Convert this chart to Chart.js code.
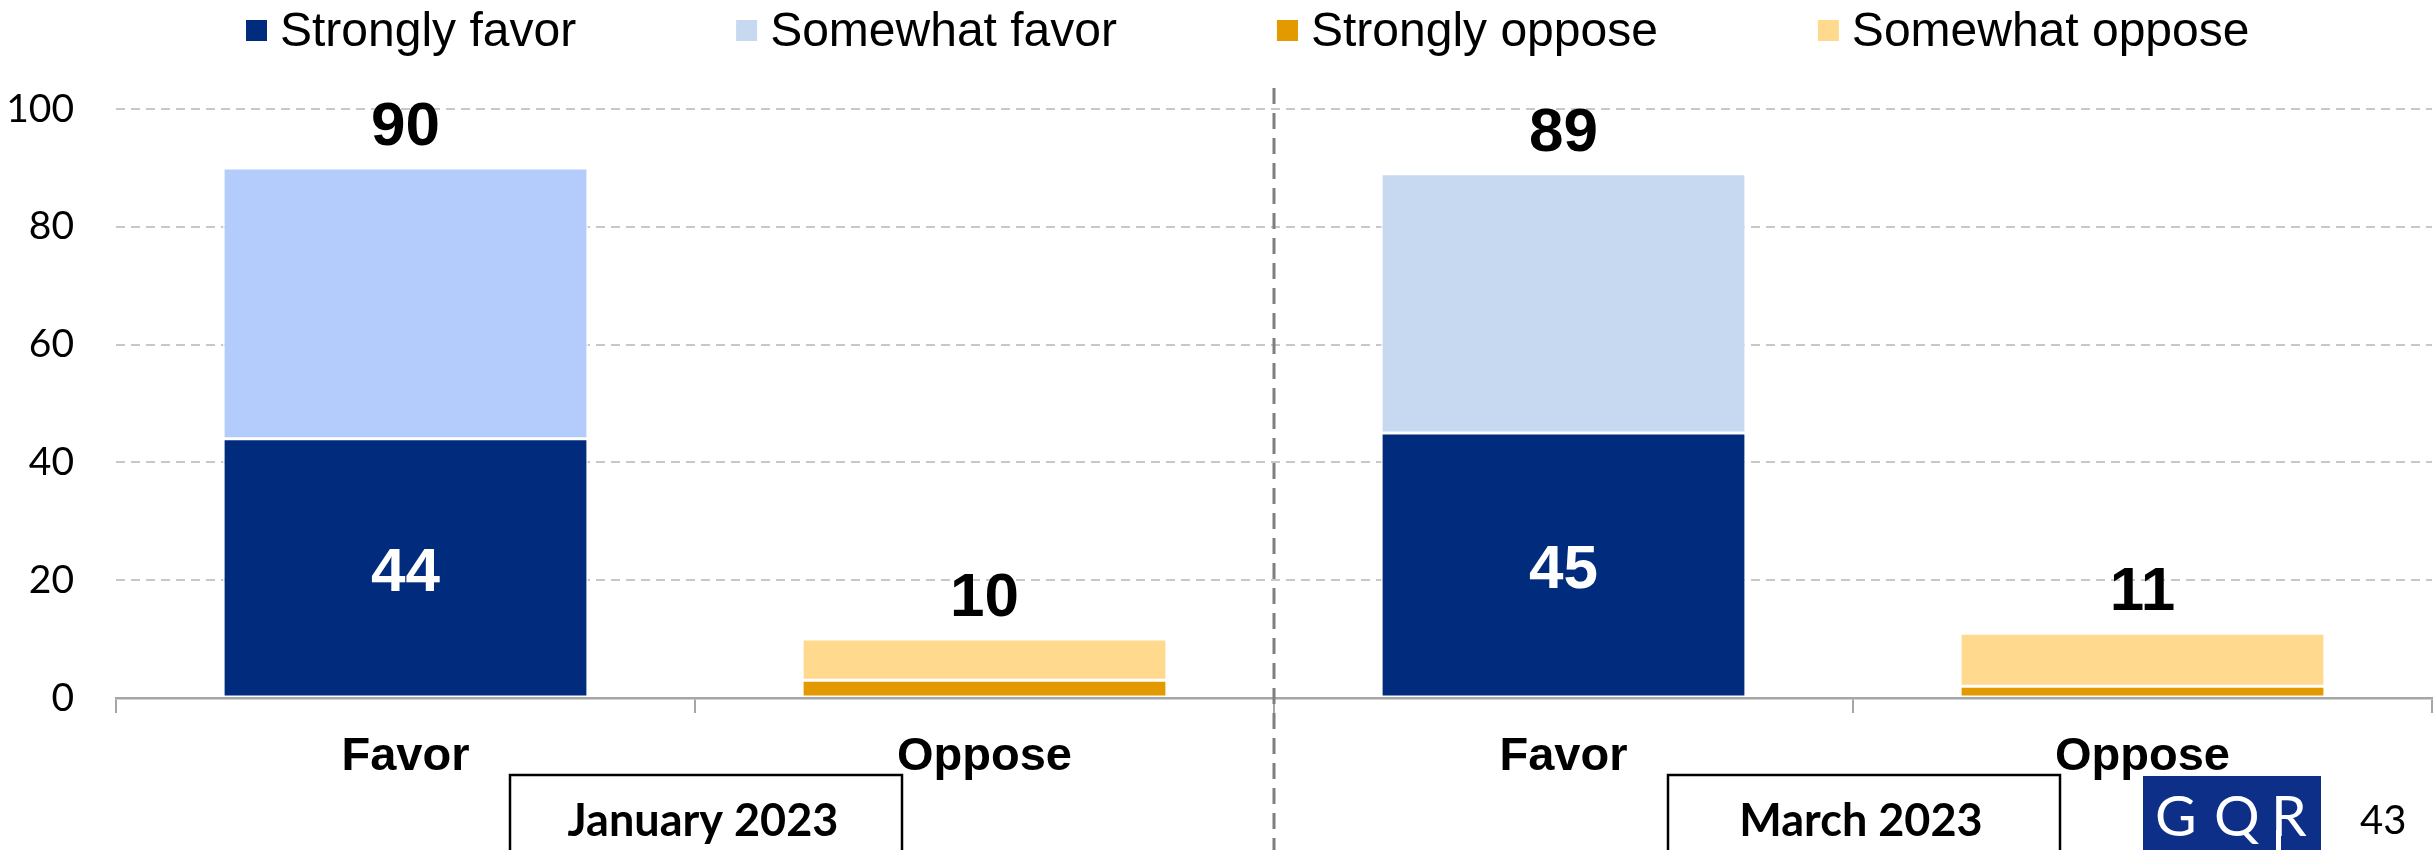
<!DOCTYPE html>
<html>
<head>
<meta charset="utf-8">
<script src="https://cdn.jsdelivr.net/npm/chart.js@4/dist/chart.umd.min.js"></script>
<style>
    html, body { margin: 0; padding: 0; background: #fff; }
    canvas { display: block; }
</style>
</head>
<body>
<canvas id="chart" width="2433" height="850"></canvas>
<script>
const categories = ['Favor', 'Oppose', 'Favor', 'Oppose'];
const waves = ['January 2023', 'March 2023'];
const seriesNames = ['Strongly favor', 'Somewhat favor', 'Strongly oppose', 'Somewhat oppose'];
const stronglyFavor = [44, null, 45, null];
const somewhatFavor = [46, null, 44, null];
const stronglyOppose = [null, 3, null, 2];
const somewhatOppose = [null, 7, null, 9];
const totals = [90, 10, 89, 11];
const yTicks = [0, 20, 40, 60, 80, 100];
const pageNumber = '43';

const NAVY = '#012B7C';
const LIGHT_BLUE_JAN = '#B3CCFC';
const LIGHT_BLUE = '#C6D9F1';
const ORANGE = '#E39900';
const LIGHT_ORANGE = '#FFD98E';
const legendColors = [NAVY, LIGHT_BLUE, ORANGE, LIGHT_ORANGE];

const ARIAL = '"Liberation Sans", Arial, sans-serif';
const CALIBRI = 'Lato, "Open Sans", sans-serif';

function barDataset(label, data, color) {
    return {
        label,
        data,
        backgroundColor: color,
        borderColor: '#ffffff',
        borderWidth: 1.5,
        borderSkipped: false,
        categoryPercentage: 1,
        barPercentage: 0.63
    };
}

// labels, separator, wave boxes, legend and logo
const overlayPlugin = {
    id: 'overlay',
    afterDatasetsDraw(chart) {
        const { ctx, scales: { x, y } } = chart;
        ctx.save();

        ctx.textAlign = 'center';
        ctx.textBaseline = 'alphabetic';
        ctx.font = `bold 62px ${ARIAL}`;
        ctx.fillStyle = '#000';
        totals.forEach((total, i) => {
            ctx.fillText(String(total), x.getPixelForValue(i), y.getPixelForValue(total) - 23);
        });

        ctx.fillStyle = '#fff';
        stronglyFavor.forEach((v, i) => {
            if (v == null) return;
            ctx.fillText(String(v), x.getPixelForValue(i), y.getPixelForValue(v / 2) + 23);
        });

        // dashed separator between the two waves
        const sepX = Math.round((x.getPixelForValue(1) + x.getPixelForValue(2)) / 2);
        ctx.strokeStyle = '#7F7F7F';
        ctx.lineWidth = 3;
        ctx.setLineDash([16, 9]);
        ctx.beginPath();
        ctx.moveTo(sepX, 88);
        ctx.lineTo(sepX, 850);
        ctx.stroke();
        ctx.setLineDash([]);

        // wave boxes
        waves.forEach((wave, w) => {
            const cx = (x.getPixelForValue(2 * w) + x.getPixelForValue(2 * w + 1)) / 2 + 11;
            ctx.strokeStyle = '#000';
            ctx.lineWidth = 2.5;
            ctx.strokeRect(cx - 196, 775, 392, 100);
            ctx.fillStyle = '#000';
            ctx.font = `bold 45px ${CALIBRI}`;
            ctx.fillText(wave, cx - 3, 836);
        });

        // legend
        ctx.font = `48px ${ARIAL}`;
        ctx.textAlign = 'left';
        let lx = 246;
        seriesNames.forEach((name, i) => {
            ctx.fillStyle = legendColors[i];
            ctx.fillRect(lx, 20, 21, 21);
            ctx.fillStyle = '#000';
            ctx.fillText(name, lx + 34, 46);
            lx += 34 + ctx.measureText(name).width + 160;
        });

        // GQR logo and page number
        ctx.fillStyle = '#0D2F88';
        ctx.fillRect(2143, 776, 178, 80);
        ctx.fillStyle = '#fff';
        ctx.font = `57px ${CALIBRI}`;
        ctx.fillText('G', 2155, 836);
        ctx.fillText('Q', 2214, 836);
        const rx = 2271;
        ctx.fillText('R', rx, 836);
        const stemLeft = rx - ctx.measureText('R').actualBoundingBoxLeft;
        ctx.fillRect(stemLeft, 830, 5, 22);

        ctx.fillStyle = '#000';
        ctx.font = `40px ${CALIBRI}`;
        ctx.fillText(pageNumber, 2360, 834);

        ctx.restore();
    }
};

new Chart(document.getElementById('chart'), {
    type: 'bar',
    data: {
        labels: categories,
        datasets: [
            barDataset(seriesNames[0], stronglyFavor, NAVY),
            barDataset(seriesNames[1], somewhatFavor, (c) => c.dataIndex === 0 ? LIGHT_BLUE_JAN : LIGHT_BLUE),
            barDataset(seriesNames[2], stronglyOppose, ORANGE),
            barDataset(seriesNames[3], somewhatOppose, LIGHT_ORANGE)
        ]
    },
    options: {
        responsive: false,
        devicePixelRatio: 1,
        animation: false,
        layout: { padding: { top: 109, right: 1, left: 0, bottom: 0 } },
        plugins: {
            legend: { display: false },
            tooltip: { enabled: false }
        },
        scales: {
            x: {
                stacked: true,
                afterFit: (scale) => { scale.height = 152; },
                grid: {
                    offset: true,
                    drawOnChartArea: false,
                    drawTicks: true,
                    tickLength: 15,
                    color: '#A6A6A6',
                    lineWidth: 2
                },
                border: { display: true, color: '#A6A6A6', width: 2.5 },
                ticks: {
                    color: '#000',
                    padding: 16,
                    font: { family: ARIAL, size: 47, weight: 'bold' }
                }
            },
            y: {
                stacked: true,
                min: 0,
                max: 100,
                afterFit: (scale) => { scale.width = 116; },
                afterBuildTicks: (scale) => { scale.ticks = yTicks.map((value) => ({ value })); },
                grid: {
                    color: '#C8C8C8',
                    lineWidth: 2,
                    drawTicks: false
                },
                border: { display: false, dash: [9, 6] },
                ticks: {
                    color: '#000',
                    padding: 42,
                    font: { family: CALIBRI, size: 39 }
                }
            }
        }
    },
    plugins: [overlayPlugin]
});
</script>
</body>
</html>
